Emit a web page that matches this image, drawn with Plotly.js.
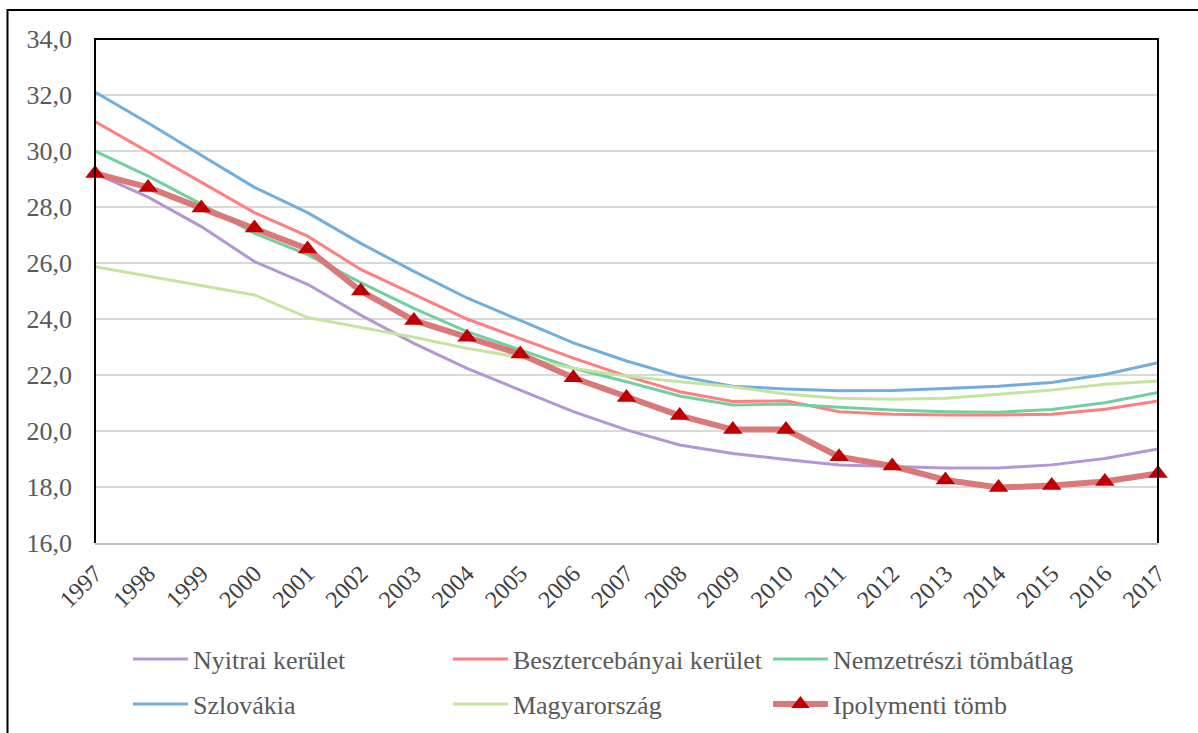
<!DOCTYPE html>
<html>
<head>
<meta charset="utf-8">
<script src="https://cdn.plot.ly/plotly-3.0.1.min.js"></script>
<style>html,body{margin:0;padding:0;background:#fff;}#chart{width:1198px;height:733px;}</style>
</head>
<body>
<div id="chart"></div>
<script>
const years = [1997,1998,1999,2000,2001,2002,2003,2004,2005,2006,2007,2008,2009,2010,2011,2012,2013,2014,2015,2016,2017];
const yTicks = [16,18,20,22,24,26,28,30,32,34];

const nyitrai = [29.2,28.35,27.3,26.05,25.24,24.14,23.13,22.24,21.46,20.69,20.04,19.5,19.2,18.98,18.79,18.73,18.68,18.68,18.79,19.02,19.36];
const besztercebanyai = [31.05,29.97,28.9,27.8,26.96,25.77,24.88,24.0,23.3,22.6,21.96,21.4,21.05,21.08,20.69,20.6,20.57,20.57,20.6,20.78,21.07];
const nemzetreszi = [30.0,29.1,28.1,27.06,26.3,25.3,24.38,23.55,22.9,22.24,21.76,21.25,20.93,20.96,20.85,20.75,20.69,20.67,20.77,21.01,21.38];
const szlovakia = [32.11,31.0,29.85,28.7,27.8,26.7,25.7,24.75,23.95,23.15,22.5,21.95,21.6,21.5,21.44,21.45,21.52,21.6,21.73,22.02,22.44];
const magyarorszag = [25.87,25.54,25.21,24.86,24.05,23.7,23.35,22.95,22.63,22.24,21.96,21.76,21.58,21.32,21.17,21.13,21.17,21.31,21.46,21.67,21.79];
const ipolymenti = [29.2,28.7,27.96,27.25,26.5,25.0,23.95,23.35,22.75,21.9,21.2,20.55,20.05,20.05,19.08,18.75,18.25,17.98,18.05,18.2,18.48];

const names = ["Nyitrai kerület","Besztercebányai kerület","Nemzetrészi tömbátlag","Szlovákia","Magyarország","Ipolymenti tömb"];

const serif = "'Liberation Serif', 'Times New Roman', Tinos, 'DejaVu Serif', serif";

function line(name, y, color, legend) {
  return {x: years, y: y, name: name, type: "scatter", mode: "lines",
          line: {color: color, width: 3}, legend: legend, hoverinfo: "x+y+name"};
}

const data = [
  line(names[0], nyitrai, "#b397d4", "legend"),
  line(names[1], besztercebanyai, "#ff7f7f", "legend"),
  line(names[2], nemzetreszi, "#72d0a0", "legend"),
  line(names[3], szlovakia, "#72aedd", "legend2"),
  line(names[4], magyarorszag, "#c6e4a0", "legend2"),
  {x: years, y: ipolymenti, name: names[5], type: "scatter", mode: "lines+markers",
   line: {color: "#d9797a", width: 6},
   marker: {symbol: "triangle-up", size: 17, color: "#c00000", line: {width: 0}},
   legend: "legend2", cliponaxis: false}
];

const legendCommon = {
  orientation: "h", xref: "container", yref: "container",
  x: 0.1068, xanchor: "left", yanchor: "middle",
  itemwidth: 55,
  entrywidth: 250, entrywidthmode: "pixels",
  font: {family: serif, size: 26, color: "#595959"},
  bgcolor: "rgba(0,0,0,0)", traceorder: "normal"
};

const layout = {
  width: 1198, height: 733,
  margin: {l: 95, r: 40, t: 39, b: 190},
  paper_bgcolor: "#ffffff", plot_bgcolor: "#ffffff",
  font: {family: serif, size: 24, color: "#595959"},
  showlegend: true,
  legend: Object.assign({}, legendCommon, {y: 1 - 659/733}),
  legend2: Object.assign({}, legendCommon, {y: 1 - 704/733}),
  xaxis: {
    range: [1997, 2017], tickmode: "array", tickvals: years, ticktext: years.map(String),
    tickangle: -45, showgrid: false, zeroline: false,
    showline: true, linecolor: "#bfbfbf", linewidth: 2,
    ticks: "", ticklabelstandoff: 5,
    tickfont: {family: serif, size: 24, color: "#404040"}
  },
  yaxis: {
    range: [16, 34], tickmode: "array", tickvals: yTicks,
    tickformat: ".1f", showgrid: true, gridcolor: "#d9d9d9", gridwidth: 1.5,
    zeroline: false, showline: false, ticks: "", ticklabelstandoff: 22,
    tickfont: {family: serif, size: 26, color: "#595959"}
  },
  separators: ", ",
  shapes: [
    {type: "path", xref: "paper", yref: "paper", path: "M0,0 L0,1 L1,1 L1,0",
     line: {color: "#000000", width: 2}},
    {type: "rect", xref: "paper", yref: "paper",
     x0: (7.5-95)/1063, x1: (1210-95)/1063, y0: (543-745)/504, y1: (543-10)/504,
     line: {color: "#000000", width: 2}, fillcolor: "rgba(0,0,0,0)"}
  ]
};

Plotly.newPlot("chart", data, layout, {displayModeBar: false, responsive: false});
</script>
</body>
</html>
